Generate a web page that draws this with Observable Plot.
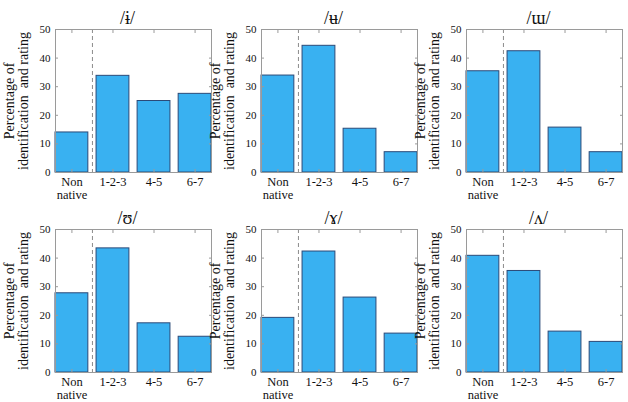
<!DOCTYPE html>
<html><head><meta charset="utf-8">
<script src="https://cdn.jsdelivr.net/npm/d3@7"></script>
<script src="https://cdn.jsdelivr.net/npm/@observablehq/plot@0.6"></script>
<style>
html,body{margin:0;padding:0;background:#fff;}
#chart{position:relative;width:628px;height:402px;overflow:hidden;background:#fff;}
#chart svg{position:absolute;overflow:visible;font-family:'Liberation Serif','Times New Roman','DejaVu Serif',serif;}
#chart svg text{font-family:'Liberation Serif','Times New Roman','DejaVu Serif',serif;white-space:pre;}
</style></head><body><div id="chart"></div>
<script>
// Categories (x tick labels)
const categories = ["Non\nnative", "1-2-3", "4-5", "6-7"];
const categoryPositions = [1, 2, 3, 4];
// Panel titles (vowels)
const vowels = ["/ɨ/", "/ʉ/", "/ɯ/", "/ʊ/", "/ɤ/", "/ʌ/"];
// Series values (percentage), one array per vowel
const valuesBarredI = [14.0, 33.8, 25.0, 27.5];
const valuesBarredU = [33.9, 44.3, 15.3, 7.1];
const valuesTurnedM = [35.4, 42.4, 15.7, 7.1];
const valuesUpsilon = [27.7, 43.4, 17.2, 12.5];
const valuesRamsHorn = [19.1, 42.3, 26.2, 13.6];
const valuesWedge = [40.8, 35.5, 14.3, 10.7];
// Y ticks
const yTicks = [0, 10, 20, 30, 40, 50];
const separatorAt = [1.5];
const yLabel = "Percentage of\nidentification  and rating";

const series = [valuesBarredI, valuesBarredU, valuesTurnedM, valuesUpsilon, valuesRamsHorn, valuesWedge];
const lefts = [0, 206, 411];
const tops = [0, 200];
const gray = "#9a9a9a";
const ink = "#111";
const serif = "'Liberation Serif','Times New Roman','DejaVu Serif',serif";

const chart = document.getElementById("chart");
series.forEach((values, k) => {
  const data = values.map((v, i) => ({pos: categoryPositions[i], value: v}));
  const svg = Plot.plot({
    width: 217, height: 202,
    marginLeft: 55, marginRight: 6, marginTop: 29, marginBottom: 30,
    style: {fontFamily: serif, background: "transparent", color: ink, overflow: "visible"},
    x: {domain: [0.6, 4.4], axis: null},
    y: {domain: [0, 50], axis: null},
    marks: [
      Plot.rectY(data, {x1: d => d.pos - 0.4, x2: d => d.pos + 0.4, y1: 0, y2: "value", fill: "#39b1f1", stroke: "#2b4a78", strokeWidth: 1}),
      Plot.ruleX(separatorAt, {stroke: "#8c8c8c", strokeDasharray: "4,3"}),
      Plot.frame({stroke: gray}),
      // inward ticks on all four sides
      Plot.axisY(yTicks, {anchor: "left", tickSize: -3, tickFormat: () => "", stroke: gray, label: null}),
      Plot.axisY(yTicks, {anchor: "right", tickSize: -3, tickFormat: () => "", stroke: gray, label: null}),
      Plot.axisX(categoryPositions, {anchor: "bottom", tickSize: -3, tickFormat: () => "", stroke: gray, label: null}),
      Plot.axisX(categoryPositions, {anchor: "top", tickSize: -3, tickFormat: () => "", stroke: gray, label: null}),
      // tick labels
      Plot.text(yTicks, {y: d => d, frameAnchor: "left", dx: -5, textAnchor: "end", lineAnchor: "middle", fontSize: 11, fontFamily: serif, fill: ink}),
      Plot.text(categoryPositions, {x: d => d, text: d => categories[d - 1], frameAnchor: "bottom", dy: 4, textAnchor: "middle", lineAnchor: "top", lineHeight: 1.06, fontSize: 12.5, fontFamily: serif, fill: ink}),
      // title and y label
      Plot.text([vowels[k]], {frameAnchor: "top", dy: -6, dx: -6, lineAnchor: "bottom", textAnchor: "middle", fontSize: 18, fontFamily: serif, fill: ink}),
      Plot.text([yLabel], {frameAnchor: "left", rotate: -90, dx: -39, textAnchor: "middle", fontSize: 14, fontFamily: serif, lineHeight: 0.97, lineAnchor: "middle", fill: ink})
    ]
  });
  svg.style.left = lefts[k % 3] + "px";
  svg.style.top = tops[Math.floor(k / 3)] + "px";
  chart.appendChild(svg);
});
</script></body></html>
